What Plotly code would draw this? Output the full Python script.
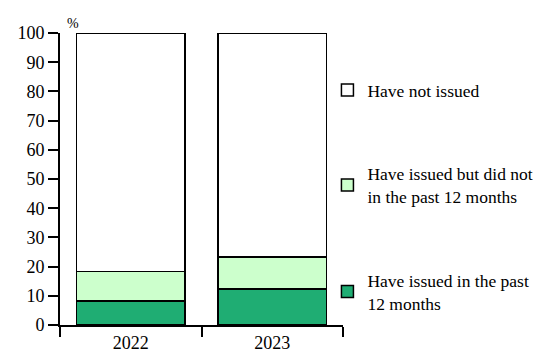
import plotly.graph_objects as go

years = ["2022", "2023"]
issued_recent = [8.2, 12.4]
issued_not_recent = [10.2, 10.9]
not_issued = [81.6, 76.7]

names = ["Have issued in the past<br>12 months",
         "Have issued but did not<br>in the past 12 months",
         "Have not issued"]
colors = ["#1FAD73", "#CCFFCC", "#FFFFFF"]
series = [issued_recent, issued_not_recent, not_issued]
groups = ["g3", "g2", "g1"]
ranks = [3, 2, 1]

FAM = "Liberation Serif"

fig = go.Figure()
for name, col, vals, grp, rk in zip(names, colors, series, groups, ranks):
    fig.add_trace(go.Bar(x=years, y=vals, name=name, marker_color=col,
                         marker_line=dict(color="black", width=1.5),
                         legendgroup=grp, legendrank=rk))

fig.update_layout(
    template="none",
    width=550, height=360,
    margin=dict(l=60, r=201, t=33, b=35),
    paper_bgcolor="white", plot_bgcolor="white",
    barmode="stack", bargap=0.232,
    font=dict(family=FAM, size=18, color="black"),
    showlegend=True,
    legend=dict(x=0.945, y=0.44, xanchor="left", yanchor="middle",
                font=dict(family=FAM, size=17.5, color="black"),
                traceorder="grouped", tracegroupgap=58,
                borderwidth=0, itemwidth=30),
    xaxis=dict(type="category", showline=True, linecolor="black", linewidth=2,
               ticks="outside", tickson="boundaries", ticklen=10,
               tickwidth=2, tickcolor="black",
               showgrid=False, automargin=False,
               tickfont=dict(family=FAM, size=18, color="black")),
    yaxis=dict(range=[0, 100], dtick=10, showline=True, linecolor="black",
               linewidth=2, ticks="outside", ticklen=10, tickwidth=2,
               tickcolor="black", showgrid=False, zeroline=False,
               automargin=False,
               tickfont=dict(family=FAM, size=18, color="black")),
    annotations=[dict(text="%", x=13 / 289, y=1.0, xref="paper", yref="paper",
                      xanchor="center", yanchor="bottom", showarrow=False,
                      font=dict(family=FAM, size=14, color="black"))],
)

fig.write_html("out.html")
